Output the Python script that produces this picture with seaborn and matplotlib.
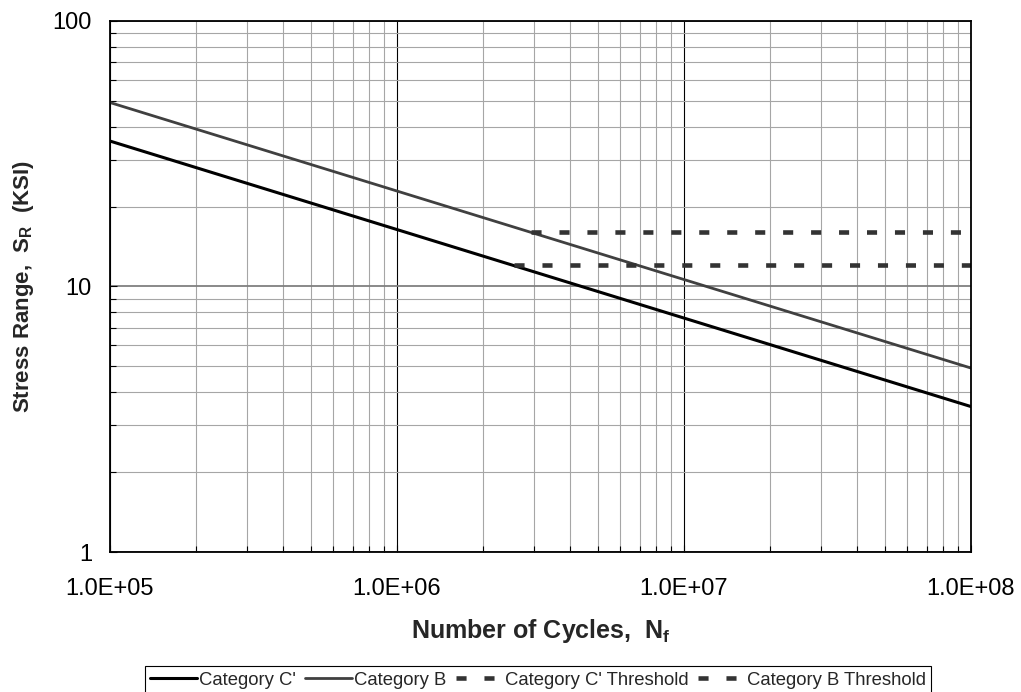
import matplotlib
matplotlib.use("Agg")
import matplotlib.pyplot as plt
import matplotlib.ticker as mticker
from matplotlib.lines import Line2D
import seaborn as sns

# S-N curve data
cycles = [1e5, 1e8]
cat_c_stress = [35.3, 3.53]
cat_b_stress = [49.3, 4.93]
thr_c_cycles = [2.55e6, 1e8]
thr_c_stress = [12, 12]
thr_b_cycles = [2.93e6, 1e8]
thr_b_stress = [16, 16]

sns.set_style("white")
plt.rcParams["font.family"] = ["Liberation Sans", "DejaVu Sans"]
plt.rcParams["mathtext.fontset"] = "custom"
plt.rcParams["mathtext.rm"] = "Liberation Sans:bold"
plt.rcParams["mathtext.it"] = "Liberation Sans:bold"

fig = plt.figure(figsize=(10.21, 6.92), dpi=100)
ax = fig.add_axes([0.1077, 0.2023, 0.8433, 0.7674])

ax.set_xscale("log")
ax.set_yscale("log")
ax.set_xlim(1e5, 1e8)
ax.set_ylim(1, 100)

# grid
ax.grid(which="minor", color="#a6a6a6", lw=0.8)
ax.grid(which="major", axis="x", color="black", lw=0.8)
ax.grid(which="major", axis="y", color="#808080", lw=1.3)
ax.set_axisbelow(True)

dash = (2.2, 3.9)
sns.lineplot(x=cycles, y=cat_c_stress, ax=ax, color="black", lw=2.2)
sns.lineplot(x=cycles, y=cat_b_stress, ax=ax, color="#404040", lw=2.0)
sns.lineplot(x=thr_c_cycles, y=thr_c_stress, ax=ax, color="#333333", lw=3.3,
             linestyle=(0, dash))
sns.lineplot(x=thr_b_cycles, y=thr_b_stress, ax=ax, color="#333333", lw=3.3,
             linestyle=(0, dash))
for ln in ax.lines[-2:]:
    ln.set_dash_capstyle("butt")

ax.xaxis.set_major_locator(mticker.LogLocator(base=10, numticks=10))
ax.xaxis.set_major_formatter(mticker.FuncFormatter(lambda v, p: f"{v:.1E}"))
ax.xaxis.set_minor_locator(mticker.LogLocator(base=10, subs=range(2, 10), numticks=20))
ax.xaxis.set_minor_formatter(mticker.NullFormatter())
ax.yaxis.set_major_formatter(mticker.FuncFormatter(lambda v, p: f"{v:g}"))
ax.yaxis.set_minor_locator(mticker.LogLocator(base=10, subs=range(2, 10), numticks=20))
ax.yaxis.set_minor_formatter(mticker.NullFormatter())

ax.tick_params(axis="both", which="both", direction="in", colors="black",
               bottom=True, left=True, labelsize=17)
ax.tick_params(axis="both", which="major", length=5, width=0.8)
ax.tick_params(axis="both", which="minor", length=4, width=0.8)
ax.tick_params(axis="x", which="major", pad=19)
ax.tick_params(axis="y", which="major", pad=13)

for s in ax.spines.values():
    s.set_color("black")
    s.set_linewidth(1.3)

ax.set_xlabel("Number of Cycles,  N$_f$", fontsize=18, fontweight="bold", labelpad=12)
ax.set_ylabel("Stress Range,  S$_R$  (KSI)", fontsize=16, fontweight="bold", labelpad=12)

handles = [
    Line2D([], [], color="black", lw=2.2),
    Line2D([], [], color="#404040", lw=2.0),
    Line2D([], [], color="#333333", lw=3.3, linestyle=(0, dash), dash_capstyle="butt"),
    Line2D([], [], color="#333333", lw=3.3, linestyle=(0, dash), dash_capstyle="butt"),
]
labels = ["Category C'", "Category B", "Category C' Threshold", "Category B Threshold"]
leg = fig.legend(handles, labels, loc="upper center", bbox_to_anchor=(0.527, 0.0376),
                 ncol=4, fontsize=13.3, frameon=True, fancybox=False, framealpha=1,
                 edgecolor="black", handlelength=2.5, handletextpad=0.15,
                 columnspacing=0.5, borderpad=0.3, borderaxespad=0)
leg.get_frame().set_linewidth(0.8)

fig.savefig("out.png", dpi=100)
